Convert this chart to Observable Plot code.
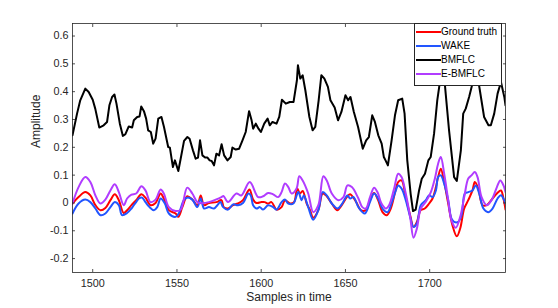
<!DOCTYPE html>
<html><head><meta charset="utf-8">
<script src="https://cdn.jsdelivr.net/npm/d3@7"></script>
<script src="https://cdn.jsdelivr.net/npm/@observablehq/plot@0.6"></script>
<style>
html,body{margin:0;padding:0;background:#fff;}
#wrap{position:relative;width:558px;height:308px;font-family:"Liberation Sans",Arial,sans-serif;}
#legend{position:absolute;left:414px;top:23px;width:88px;height:63px;background:#fff;border:1px solid #262626;box-sizing:border-box;font-size:10px;color:#000;}
.row{position:absolute;left:0;height:14px;display:flex;align-items:center;white-space:nowrap;}
.row svg{display:block;margin-right:0px;}
</style></head><body><div id="wrap"></div>
<script>
const xDomain = [1488, 1745];
const yDomain = [-0.25, 0.645];
const xTicks = [1500, 1550, 1600, 1650, 1700];
const yTicks = [-0.2, -0.1, 0, 0.1, 0.2, 0.3, 0.4, 0.5, 0.6];
const seriesNames = ["Ground truth", "WAKE", "BMFLC", "E-BMFLC"];
const seriesColors = ["#ff0000", "#2255ff", "#000000", "#b13cff"];

const truthX = [1488,1491.6,1495.6,1498.6,1501.6,1504.6,1507.5,1510.5,1513.1,1515.5,1518.4,1520.4,1523,1525.8,1528.9,1531.3,1534.3,1537.3,1540.3,1542.2,1545.2,1549.2,1550.8,1553.2,1556.1,1559.1,1562.1,1564.1,1566.1,1569,1573.4,1576.4,1577.8,1580.3,1583.3,1586.2,1589.2,1592.2,1593.2,1595.2,1597.2,1600.2,1602.1,1604.1,1606.1,1609.1,1612.1,1614.1,1617.1,1619.5,1621.4,1623,1624.6,1627,1629,1630.9,1633.9,1636.5,1638.9,1641.9,1645.2,1647.8,1651.2,1652.8,1656.4,1659.1,1662.1,1664.6,1667,1669.4,1672,1674.5,1676.9,1679.3,1681.3,1683.3,1685.8,1688.4,1690.4,1692.4,1694.7,1697.1,1699.7,1701.7,1703.7,1705,1706.6,1708.6,1711,1713.5,1716.1,1718.1,1720.5,1722.9,1725.4,1726.8,1728.8,1731.4,1733.9,1737.3,1739.9,1742.3,1743.8,1745];
const truthY = [-0.002,0.021,0.039,0.027,-0.008,-0.026,-0.018,0.010,0.031,0.010,-0.036,-0.026,-0.008,0.010,0.031,0.019,-0.008,0,0.034,0.016,-0.026,-0.038,-0.050,-0.015,0.024,0.012,-0.008,0.027,-0.008,0,0.003,0.010,-0.015,-0.020,-0.008,-0.002,0.010,0.043,0.048,0.012,0,0.003,0.003,-0.002,0.003,-0.024,-0.015,0.010,-0.002,0.003,0.052,0.034,0.043,-0.002,-0.026,-0.053,-0.026,0.034,0.024,-0.002,-0.026,-0.008,0.024,0.031,0.003,-0.026,-0.026,0.010,0.036,0.010,-0.033,-0.044,-0.020,0.034,0.075,0.081,0.021,-0.044,-0.086,-0.068,-0.026,-0.020,-0.002,0.016,0.057,0.093,0.123,0.075,-0.002,-0.080,-0.120,-0.092,-0.020,0.010,0.045,0.075,0.052,-0.008,-0.008,0.016,0.034,0.045,0.016,-0.024];

const wakeX = [1488,1491.6,1495.6,1498.6,1501.6,1504.6,1507.5,1510.5,1513.1,1515.5,1517.4,1520.4,1523,1524.4,1525.8,1527.4,1529.3,1531.3,1533.7,1536.3,1538.3,1540.3,1542.8,1545.2,1549.2,1551.2,1554.1,1556.1,1559.1,1562.1,1564.1,1566.1,1569,1572,1574,1575.8,1577.4,1580.3,1583.3,1586.2,1589.2,1592.4,1593.8,1595.2,1597.2,1599.2,1601.1,1604.1,1607.1,1609.1,1612.1,1614.1,1616.1,1619.1,1622,1624,1625.3,1627.9,1630.9,1633.9,1636.5,1638.9,1641.9,1645.2,1647.8,1651.2,1652.8,1654.8,1657.7,1661.5,1664.6,1667,1669.4,1672,1675,1677.3,1679.9,1681.3,1683.3,1685.8,1688.4,1690.4,1692.4,1694.7,1697.7,1699.7,1701.7,1703.7,1705,1706.6,1708.6,1711,1712.9,1714.5,1716.9,1718.9,1720.9,1722.9,1725.4,1727.4,1729.4,1731.9,1734.7,1737.3,1740.3,1742.3,1744.2,1745];
const wakeY = [-0.038,-0.002,0.012,0.003,-0.020,-0.044,-0.038,-0.015,0.003,-0.008,-0.044,-0.036,-0.020,-0.008,0.003,0.016,0.019,0.003,-0.015,-0.026,-0.015,0.016,-0.002,-0.038,-0.050,-0.036,0.010,0.019,0.012,-0.015,0.016,-0.020,-0.015,-0.020,-0.008,0.003,-0.015,-0.024,-0.005,-0.008,0,0.034,0.027,-0.008,-0.020,-0.015,-0.024,-0.008,-0.015,-0.024,0.003,0.012,-0.002,-0.002,0.039,0.010,0.027,-0.015,-0.060,-0.026,0.039,0.027,-0.002,-0.020,-0.005,0.027,0.016,0.021,-0.015,-0.038,0.004,0.034,0.016,-0.020,-0.033,-0.002,0.045,0.063,0.052,0.010,-0.050,-0.086,-0.074,-0.008,0.010,0.028,0.021,0.045,0.093,0.099,0.069,0.010,-0.056,-0.068,-0.068,-0.044,0.034,0.039,0.045,0.063,0.034,-0.020,-0.033,-0.020,0.016,0.028,0.010,-0.002];

const bmflcX = [1488,1490.7,1492.6,1495.6,1497.6,1500,1501.5,1503.9,1506.5,1508.5,1509.9,1511.5,1512.9,1514.1,1516.1,1517.9,1519.4,1521.4,1523.4,1524.4,1526.4,1527.8,1528.8,1530.4,1531.7,1532.9,1534.5,1535.9,1537.3,1538.9,1540.8,1542.3,1544.8,1545.8,1547.6,1548.8,1550.8,1552.2,1554.2,1556.2,1557.5,1559.5,1561.1,1562.5,1563.7,1565.1,1566.7,1568.1,1569.4,1570.6,1572,1573.4,1575,1576.5,1578,1580,1581.9,1582.9,1584.9,1586.9,1588.9,1590.8,1592.8,1594.3,1595.2,1596.8,1598.4,1599.8,1601.8,1603.8,1605.1,1606.7,1609.1,1610.7,1612.3,1614.6,1617,1619.2,1621.2,1621.8,1623.2,1624.6,1626.2,1628.6,1630.5,1632.1,1634.1,1635.7,1637.5,1639.6,1641.1,1643.6,1645.6,1647.6,1650,1651.6,1653,1655,1657.5,1660.3,1662.3,1663.9,1665.9,1667.5,1669.5,1671.5,1672.8,1673.8,1675.2,1677.4,1679.4,1681.3,1683.7,1685.1,1686.7,1688.7,1690.1,1691.7,1693.7,1695.3,1697.2,1699.2,1700.6,1702.6,1704.5,1706.5,1707.8,1709.5,1711.5,1714.5,1716.1,1718.5,1719.9,1721.4,1723.4,1725.4,1727,1728,1729.3,1732.3,1734.9,1736.3,1738.3,1740.3,1742.3,1744.3,1745];
const bmflcY = [0.243,0.321,0.369,0.411,0.399,0.371,0.339,0.271,0.279,0.291,0.351,0.381,0.390,0.357,0.285,0.241,0.247,0.275,0.271,0.297,0.309,0.311,0.347,0.330,0.303,0.261,0.255,0.213,0.231,0.303,0.309,0.273,0.201,0.199,0.129,0.153,0.115,0.159,0.223,0.237,0.231,0.189,0.159,0.163,0.225,0.171,0.163,0.163,0.153,0.151,0.135,0.177,0.171,0.211,0.171,0.153,0.165,0.199,0.192,0.195,0.225,0.255,0.330,0.297,0.267,0.285,0.267,0.255,0.285,0.303,0.279,0.291,0.285,0.309,0.371,0.357,0.363,0.363,0.441,0.495,0.447,0.459,0.405,0.309,0.261,0.273,0.369,0.459,0.447,0.417,0.369,0.343,0.297,0.327,0.387,0.369,0.381,0.327,0.273,0.195,0.225,0.237,0.315,0.291,0.243,0.213,0.165,0.153,0.135,0.225,0.315,0.369,0.375,0.321,0.153,0.033,-0.029,-0.024,0.045,0.087,0.105,0.153,0.165,0.249,0.369,0.453,0.510,0.393,0.261,0.093,0.079,0.189,0.321,0.339,0.381,0.429,0.477,0.490,0.423,0.309,0.279,0.279,0.321,0.393,0.435,0.381,0.351];

const ebmflcX = [1488,1491.6,1495.6,1498.6,1501.6,1504.6,1507.5,1510.5,1513.1,1515.5,1518.4,1520.4,1523,1525.8,1528.9,1531.3,1534.3,1537.3,1540.3,1542.2,1545.2,1549.2,1552.2,1556.1,1559.1,1562.1,1565.1,1569,1573,1576.4,1577.6,1580.3,1585.3,1588.2,1593.2,1598.2,1601.1,1604.1,1607.1,1610.1,1612.1,1614.1,1616.1,1618,1621,1622.6,1624.6,1627.9,1630.9,1633.9,1636.9,1638.9,1641.9,1645.8,1648.8,1651.2,1653.8,1657.7,1660,1662.1,1664.6,1667,1669,1671.4,1674,1675.9,1678.9,1681.3,1683.3,1685.8,1688.4,1690.4,1692.4,1694.7,1697.7,1700.7,1703.1,1705,1706.6,1708.6,1711,1712.9,1715.5,1718.1,1720.5,1722.9,1724.8,1726.8,1728.4,1730.8,1733.9,1736.7,1739.9,1741.9,1743.8,1745];
const ebmflcY = [-0.002,0.057,0.093,0.075,0.027,-0.002,0.012,0.045,0.067,0.039,-0.008,0.016,0.030,0.034,0.060,0.045,0.003,0.012,0.048,0.034,-0.015,-0.029,-0.024,0.055,0.034,0.003,-0.001,0.003,0.012,0.021,0.025,0.003,0.034,0.027,0.075,0.021,0.024,0.036,0.031,0.021,0.039,0.070,0.057,0.034,0.052,0.096,0.081,0.034,-0.033,-0.008,0.096,0.081,0.034,0.010,0.021,0.063,0.057,0.016,-0.015,-0.020,0.021,0.055,0.039,-0.002,-0.020,-0.008,0.052,0.105,0.093,0.034,-0.050,-0.125,-0.092,-0.020,0.004,0.039,0.088,0.141,0.165,0.105,0.010,-0.062,-0.089,-0.050,0.021,0.088,0.099,0.111,0.093,0.021,-0.008,0.010,0.057,0.081,0.063,0.039];

const toRows = (xs, ys) => xs.map((x, i) => ({x, y: ys[i]}));
const truth = toRows(truthX, truthY);
const wake = toRows(wakeX, wakeY);
const bmflc = toRows(bmflcX, bmflcY);
const ebmflc = toRows(ebmflcX, ebmflcY);

const axisColor = "#262626";
const chart = Plot.plot({
  width: 558, height: 308,
  marginLeft: 72, marginRight: 53, marginTop: 23, marginBottom: 36,
  style: {fontFamily: "'Liberation Sans', Arial, sans-serif", fontSize: "10.8px", color: axisColor, background: "white", overflow: "visible"},
  x: {domain: xDomain},
  y: {domain: yDomain},
  marks: [
    Plot.line(truth, {x: "x", y: "y", stroke: seriesColors[0], strokeWidth: 2, curve: "catmull-rom", clip: true}),
    Plot.line(wake, {x: "x", y: "y", stroke: seriesColors[1], strokeWidth: 2, curve: "catmull-rom", clip: true}),
    Plot.line(bmflc, {x: "x", y: "y", stroke: seriesColors[2], strokeWidth: 2, clip: true}),
    Plot.line(ebmflc, {x: "x", y: "y", stroke: seriesColors[3], strokeWidth: 2, curve: "catmull-rom", clip: true}),
    Plot.frame({stroke: axisColor, strokeWidth: 0.8}),
    Plot.axisX({ticks: xTicks, tickSize: -3, tickPadding: 10, label: null, tickFormat: d => String(d), strokeWidth: 0.8}),
    Plot.axisX({anchor: "top", ticks: xTicks, tickSize: -3, fill: "none", label: null, strokeWidth: 0.8}),
    Plot.axisY({ticks: yTicks, tickSize: -3, tickPadding: 7, label: null, tickFormat: d => String(d), strokeWidth: 0.8}),
    Plot.axisY({anchor: "right", ticks: yTicks, tickSize: -3, fill: "none", label: null, strokeWidth: 0.8}),
    Plot.text(["Samples in time"], {frameAnchor: "bottom", dy: 28, fontSize: 12, fill: axisColor}),
    Plot.text(["Amplitude"], {frameAnchor: "left", dx: -36, rotate: -90, fontSize: 12, fill: axisColor})
  ]
});
const wrap = document.getElementById("wrap");
wrap.appendChild(chart);

const legend = document.createElement("div");
legend.id = "legend";
seriesNames.forEach((name, i) => {
  const row = document.createElement("div");
  row.className = "row";
  row.style.top = (0.5 + i * 14.1) + "px";
  row.innerHTML = `<svg width="26" height="14"><line x1="1" x2="26" y1="7" y2="7" stroke="${seriesColors[i]}" stroke-width="2"/></svg><span>${name}</span>`;
  legend.appendChild(row);
});
wrap.appendChild(legend);
</script>
</body></html>
